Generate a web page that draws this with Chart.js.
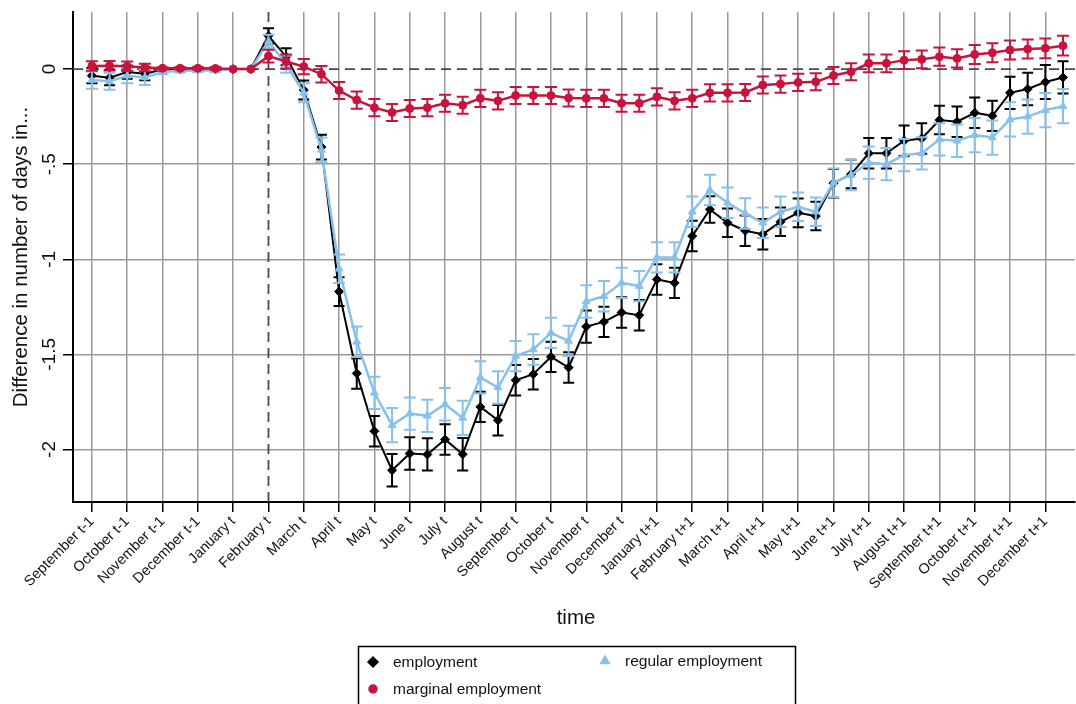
<!DOCTYPE html>
<html>
<head>
<meta charset="utf-8">
<title>Difference in number of days</title>
<script src="https://cdn.jsdelivr.net/npm/chart.js@4.4.1/dist/chart.umd.min.js"></script>
<style>
  html, body { margin: 0; padding: 0; background: #fff; }
  #wrap { width: 1076px; height: 704px; }
</style>
</head>
<body>
<div id="wrap"><canvas id="chart" width="1076" height="704"></canvas></div>
<script>
// Tick labels (one per month, points are half-monthly)
const months = [
    'September t-1', 'October t-1', 'November t-1', 'December t-1',
    'January t', 'February t', 'March t', 'April t', 'May t', 'June t', 'July t', 'August t',
    'September t', 'October t', 'November t', 'December t',
    'January t+1', 'February t+1', 'March t+1', 'April t+1', 'May t+1', 'June t+1',
    'July t+1', 'August t+1', 'September t+1', 'October t+1', 'November t+1', 'December t+1'
];
const yTicks = [0, -0.5, -1, -1.5, -2];
const yTickLabels = ['0', '-.5', '-1', '-1.5', '-2'];

// Series (56 half-month estimates)
const employment = [
    -0.035, -0.045, -0.016, -0.024, -0.002, -0.001, 0.002, 0.0, 0, 0,
    0.175, 0.065, -0.11, -0.41, -1.17, -1.60, -1.904, -2.109, -2.021, -2.026,
    -1.947, -2.025, -1.776, -1.846, -1.636, -1.604, -1.513, -1.569, -1.354, -1.329,
    -1.28, -1.294, -1.106, -1.124, -0.878, -0.738, -0.808, -0.85, -0.868, -0.803,
    -0.756, -0.773, -0.60, -0.552, -0.443, -0.443, -0.377, -0.365, -0.268, -0.277,
    -0.23, -0.246, -0.125, -0.105, -0.068, -0.044
];
const regular = [
    -0.058, -0.064, -0.035, -0.044, -0.016, -0.009, -0.008, -0.008, 0, 0,
    0.145, 0.025, -0.125, -0.425, -1.05, -1.434, -1.702, -1.872, -1.811, -1.823,
    -1.762, -1.834, -1.621, -1.674, -1.509, -1.474, -1.387, -1.429, -1.222, -1.194,
    -1.124, -1.141, -0.99, -0.99, -0.75, -0.636, -0.703, -0.759, -0.808, -0.75,
    -0.724, -0.75, -0.598, -0.557, -0.492, -0.50, -0.452, -0.443, -0.37, -0.377,
    -0.347, -0.36, -0.265, -0.25, -0.216, -0.195
];
const marginal = [
    0.016, 0.018, 0.015, 0.008, 0.004, 0.004, 0.004, 0.003, 0, 0,
    0.068, 0.04, 0.013, -0.027, -0.113, -0.163, -0.203, -0.228, -0.207, -0.203,
    -0.18, -0.19, -0.154, -0.167, -0.139, -0.139, -0.139, -0.152, -0.154, -0.154,
    -0.18, -0.18, -0.146, -0.167, -0.154, -0.125, -0.125, -0.123, -0.084, -0.079,
    -0.07, -0.067, -0.034, -0.014, 0.03, 0.03, 0.047, 0.051, 0.065, 0.056,
    0.077, 0.086, 0.10, 0.105, 0.109, 0.123
];

// Confidence interval half-widths
const employmentCI = [
    0.04, 0.04, 0.035, 0.035, 0.008, 0.008, 0.008, 0.008, 0, 0,
    0.04, 0.045, 0.05, 0.065, 0.075, 0.08, 0.08, 0.085, 0.085, 0.085,
    0.08, 0.085, 0.08, 0.08, 0.08, 0.08, 0.08, 0.08, 0.085, 0.08,
    0.08, 0.08, 0.08, 0.08, 0.08, 0.07, 0.075, 0.08, 0.08, 0.075,
    0.075, 0.075, 0.075, 0.075, 0.08, 0.08, 0.08, 0.08, 0.075, 0.08,
    0.08, 0.08, 0.085, 0.085, 0.09, 0.085
];
const regularCI = [
    0.045, 0.045, 0.04, 0.04, 0.008, 0.008, 0.008, 0.008, 0, 0,
    0.035, 0.045, 0.05, 0.065, 0.075, 0.08, 0.085, 0.09, 0.085, 0.085,
    0.085, 0.09, 0.085, 0.085, 0.08, 0.08, 0.08, 0.08, 0.085, 0.08,
    0.08, 0.08, 0.08, 0.08, 0.08, 0.08, 0.08, 0.08, 0.08, 0.08,
    0.075, 0.075, 0.075, 0.08, 0.085, 0.085, 0.085, 0.085, 0.085, 0.085,
    0.09, 0.09, 0.09, 0.09, 0.09, 0.09
];
const marginalCI = [
    0.025, 0.025, 0.025, 0.02, 0.006, 0.006, 0.006, 0.006, 0, 0,
    0.033, 0.037, 0.04, 0.043, 0.045, 0.045, 0.045, 0.045, 0.045, 0.045,
    0.045, 0.045, 0.045, 0.045, 0.045, 0.045, 0.045, 0.045, 0.045, 0.045,
    0.045, 0.045, 0.045, 0.045, 0.045, 0.045, 0.045, 0.045, 0.045, 0.045,
    0.045, 0.045, 0.045, 0.045, 0.047, 0.047, 0.047, 0.047, 0.048, 0.048,
    0.05, 0.05, 0.05, 0.05, 0.052, 0.052
];

// Colors
const BLACK = '#000000';
const BLUE = '#86C1EC';
const RED = '#C8143C';
const GRID = '#9a9a9a';
const FONT = '"Liberation Sans", Arial, sans-serif';

const toPoints = (arr) => arr.map((v, i) => ({ x: i / 2, y: v }));

// Error bars, drawn just under each dataset's line
const errorBars = {
    id: 'errorBars',
    beforeDatasetDraw(chart, args) {
        const ds = chart.data.datasets[args.index];
        const xs = chart.scales.x, ys = chart.scales.y;
        const ctx = chart.ctx;
        ctx.save();
        ctx.strokeStyle = ds.borderColor;
        ctx.lineWidth = 2;
        ds.data.forEach((p, i) => {
            const ci = ds.ci[i];
            if (!ci) return;
            const x = xs.getPixelForValue(p.x);
            const y1 = ys.getPixelForValue(p.y + ci);
            const y2 = ys.getPixelForValue(p.y - ci);
            const w = ds.capWidth;
            ctx.beginPath();
            ctx.moveTo(x, y1); ctx.lineTo(x, y2);
            ctx.moveTo(x - w, y1); ctx.lineTo(x + w, y1);
            ctx.moveTo(x - w, y2); ctx.lineTo(x + w, y2);
            ctx.stroke();
        });
        ctx.restore();
    }
};

// Dashed reference lines, rotated y labels, titles and boxed legend
const decorations = {
    id: 'decorations',
    beforeDatasetsDraw(chart) {
        const { ctx, chartArea: a, scales: { x, y } } = chart;
        const y0 = y.getPixelForValue(0);
        const xRef = x.getPixelForValue(5); // February t
        ctx.save();
        ctx.strokeStyle = '#4a4a4a';
        ctx.lineWidth = 1.8;
        ctx.setLineDash([10, 6]);
        ctx.beginPath();
        ctx.moveTo(a.left, y0); ctx.lineTo(a.right, y0);
        ctx.moveTo(xRef, a.top); ctx.lineTo(xRef, a.bottom);
        ctx.stroke();
        ctx.restore();
    },
    afterDraw(chart) {
        const { ctx, chartArea: a, scales: { y } } = chart;
        ctx.save();
        ctx.fillStyle = '#111';

        // y tick labels, vertical
        ctx.font = '19px ' + FONT;
        ctx.textAlign = 'center';
        ctx.textBaseline = 'alphabetic';
        yTicks.forEach((v, i) => {
            ctx.save();
            ctx.translate(55, y.getPixelForValue(v));
            ctx.rotate(-Math.PI / 2);
            ctx.fillText(yTickLabels[i], 0, 0);
            ctx.restore();
        });

        // axis titles
        ctx.font = '20.5px ' + FONT;
        ctx.textBaseline = 'middle';
        ctx.save();
        ctx.translate(21, (a.top + a.bottom) / 2);
        ctx.rotate(-Math.PI / 2);
        ctx.fillText('Difference in number of days in...', 0, 0);
        ctx.restore();
        ctx.fillText('time', (a.left + a.right) / 2 + 2, 618);

        // legend
        ctx.strokeStyle = '#000';
        ctx.lineWidth = 1.5;
        ctx.strokeRect(358.5, 646.5, 437, 80);
        const items = [
            { label: 'employment', color: BLACK, style: 'rectRot', r: 5, x: 373, y: 662 },
            { label: 'regular employment', color: BLUE, style: 'triangle', r: 5, x: 605, y: 661 },
            { label: 'marginal employment', color: RED, style: 'circle', r: 4, x: 373, y: 689 }
        ];
        ctx.font = '15.5px ' + FONT;
        ctx.textAlign = 'left';
        items.forEach(it => {
            ctx.fillStyle = it.color;
            ctx.strokeStyle = it.color;
            Chart.helpers.drawPoint(ctx, { pointStyle: it.style, radius: it.r, rotation: 0, borderWidth: 1 }, it.x, it.y);
            ctx.fillStyle = '#111';
            ctx.fillText(it.label, it.x + 20, it.y + 1);
        });
        ctx.restore();
    }
};

const ctx = document.getElementById('chart').getContext('2d');
new Chart(ctx, {
    type: 'line',
    data: {
        datasets: [
            {
                label: 'marginal employment',
                data: toPoints(marginal),
                ci: marginalCI,
                capWidth: 6,
                borderColor: RED,
                backgroundColor: RED,
                borderWidth: 2.5,
                pointStyle: 'circle',
                pointRadius: 4,
                pointBorderWidth: 1
            },
            {
                label: 'regular employment',
                data: toPoints(regular),
                ci: regularCI,
                capWidth: 6,
                borderColor: BLUE,
                backgroundColor: BLUE,
                borderWidth: 2.5,
                pointStyle: 'triangle',
                pointRadius: 4.5,
                pointBorderWidth: 1
            },
            {
                label: 'employment',
                data: toPoints(employment),
                ci: employmentCI,
                capWidth: 5.5,
                borderColor: BLACK,
                backgroundColor: BLACK,
                borderWidth: 2,
                pointStyle: 'rectRot',
                pointRadius: 4.5,
                pointBorderWidth: 1
            }
        ]
    },
    options: {
        responsive: false,
        animation: false,
        devicePixelRatio: 1,
        layout: { autoPadding: false, padding: { top: 12, right: 1, left: 0, bottom: 0 } },
        plugins: {
            legend: { display: false },
            tooltip: { enabled: false }
        },
        elements: { line: { tension: 0 } },
        scales: {
            x: {
                type: 'linear',
                min: -0.535,
                max: 27.84,
                afterBuildTicks: (scale) => { scale.ticks = months.map((m, k) => ({ value: k })); },
                afterFit: (scale) => {
                    scale.height = 202;
                    scale.paddingLeft = 0;
                    scale.paddingRight = 0;
                },
                ticks: {
                    autoSkip: false,
                    minRotation: 45,
                    maxRotation: 45,
                    padding: 1,
                    color: '#111',
                    font: { family: FONT, size: 14.5 },
                    callback: (v) => months[v]
                },
                grid: {
                    color: (c) => (c.tick && c.tick.value === 5 ? 'rgba(0,0,0,0)' : GRID),
                    lineWidth: 1.5,
                    tickColor: '#000',
                    tickLength: 10
                },
                border: { display: true, color: '#000', width: 2 }
            },
            y: {
                type: 'linear',
                min: -2.276,
                max: 0.30,
                afterBuildTicks: (scale) => { scale.ticks = yTicks.map(v => ({ value: v })); },
                afterFit: (scale) => { scale.width = 73; },
                ticks: { display: false },
                grid: {
                    color: (c) => (c.tick && c.tick.value === 0 ? 'rgba(0,0,0,0)' : GRID),
                    lineWidth: 1.5,
                    tickColor: '#000',
                    tickLength: 10
                },
                border: { display: true, color: '#000', width: 2 }
            }
        }
    },
    plugins: [errorBars, decorations]
});
</script>
</body>
</html>
